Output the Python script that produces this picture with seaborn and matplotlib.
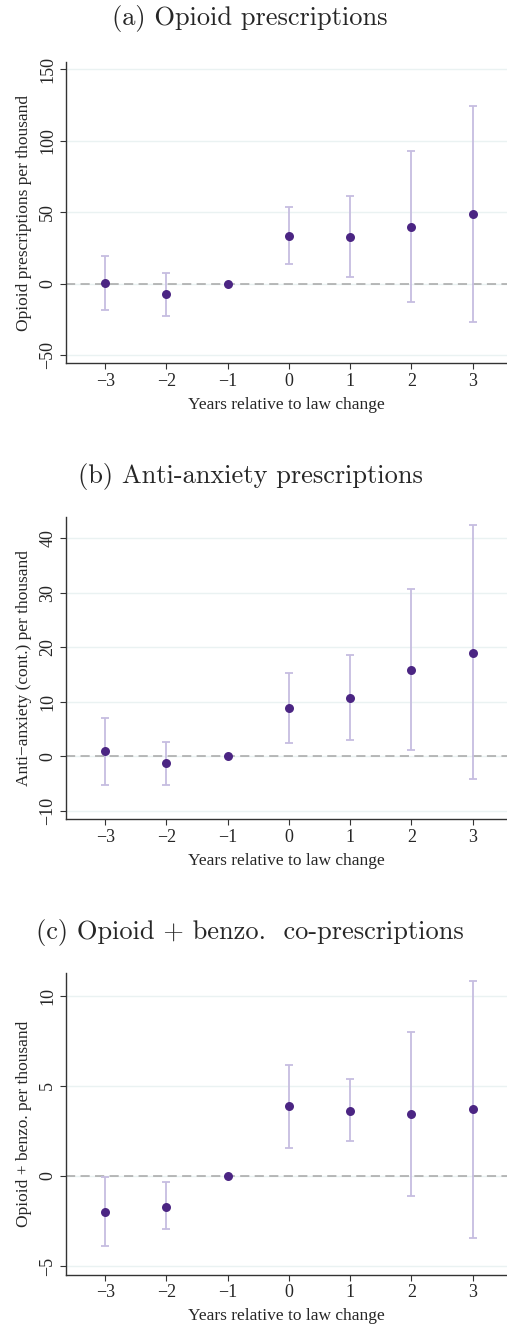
import matplotlib
matplotlib.use("Agg")
import matplotlib.pyplot as plt
import seaborn as sns
import pandas as pd

years = [-3, -2, -1, 0, 1, 2, 3]

opioid_est = [0.2, -7.5, 0.0, 33.6, 32.9, 39.7, 48.5]
opioid_lo = [-18.7, -22.2, 0.0, 14.0, 4.4, -12.8, -26.8]
opioid_hi = [19.1, 7.2, 0.0, 53.7, 61.3, 92.6, 123.9]

anx_est = [0.9, -1.3, 0.0, 8.8, 10.7, 15.9, 19.0]
anx_lo = [-5.2, -5.2, 0.0, 2.4, 2.9, 1.2, -4.2]
anx_hi = [7.0, 2.7, 0.0, 15.2, 18.5, 30.7, 42.3]

co_est = [-1.98, -1.69, 0.0, 3.87, 3.63, 3.44, 3.69]
co_lo = [-3.87, -2.96, 0.0, 1.57, 1.93, -1.11, -3.44]
co_hi = [-0.06, -0.35, 0.0, 6.17, 5.37, 7.98, 10.83]

titles = ["(a) Opioid prescriptions", "(b) Anti-anxiety prescriptions",
          "(c) Opioid + benzo.  co-prescriptions"]
ylabels = ["Opioid prescriptions per thousand",
           "Anti\u2212anxiety (cont.) per thousand",
           "Opioid + benzo. per thousand"]
xlabel = "Years relative to law change"
yticks_list = [[-50, 0, 50, 100, 150], [-10, 0, 10, 20, 30, 40], [-5, 0, 5, 10]]
ylims = [(-55.4, 155), (-11.5, 43.8), (-5.47, 11.24)]

sns.set_style("white")
plt.rcParams["font.family"] = ["Liberation Serif", "DejaVu Serif"]
plt.rcParams["axes.unicode_minus"] = True

W, H = 507, 1328
fig = plt.figure(figsize=(W / 100, H / 100), dpi=100)

panels = [(opioid_est, opioid_lo, opioid_hi), (anx_est, anx_lo, anx_hi), (co_est, co_lo, co_hi)]
tops = [62, 517.3, 973.3]
bots = [363, 819, 1274.7]
title_y = [18, 477, 933]

pt_color = "#4b2583"
ci_color = "#c6bde0"

for i, (est, lo, hi) in enumerate(panels):
    ax = fig.add_axes([66 / W, 1 - bots[i] / H, (W - 66) / W, (bots[i] - tops[i]) / H])
    df = pd.DataFrame({"year": years, "est": est, "lo": lo, "hi": hi})
    ax.set_xlim(-3.64, 3.56)
    ax.set_ylim(*ylims[i])
    for t in yticks_list[i]:
        ax.axhline(t, color="#eaf2f2", lw=1.0, zorder=0)
    ax.axhline(0, color="#a6a6a6", lw=1.1, ls=(0, (6, 3.5)), zorder=1)
    ax.errorbar(df["year"], df["est"],
                yerr=[df["est"] - df["lo"], df["hi"] - df["est"]],
                fmt="none", ecolor=ci_color, elinewidth=1.3, capsize=3, capthick=1.3, zorder=2)
    sns.scatterplot(data=df, x="year", y="est", ax=ax, color=pt_color, s=42,
                    edgecolor=pt_color, linewidth=0, zorder=3, legend=False)
    ax.set_xticks(years)
    ax.set_xticklabels([str(y).replace("-", "\u2212") for y in years], fontsize=13)
    ax.set_yticks(yticks_list[i])
    ax.set_yticklabels([str(y).replace("-", "\u2212") for y in yticks_list[i]],
                       fontsize=13, rotation=90, va="center")
    ax.tick_params(axis="both", length=4, width=0.8, color="#333333", direction="out",
                   left=True, bottom=True, pad=3)
    for s in ["top", "right"]:
        ax.spines[s].set_visible(False)
    for s in ["left", "bottom"]:
        ax.spines[s].set_color("#333333")
        ax.spines[s].set_linewidth(1.0)
    ax.set_xlabel(xlabel, fontsize=12.5, labelpad=5)
    ax.set_ylabel(ylabels[i], fontsize=12.5, labelpad=5)
    fig.text(250 / W, 1 - title_y[i] / H, titles[i], ha="center", va="center",
             fontsize=19, family=["cmr10", "DejaVu Serif"])

fig.savefig("out.png", dpi=100)
